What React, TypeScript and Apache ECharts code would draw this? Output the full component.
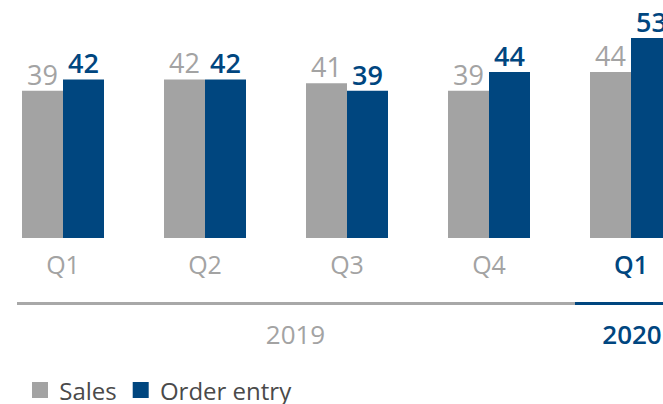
import React, { useEffect, useRef } from "react";
import * as echarts from "echarts";

const quarters = ["Q1", "Q2", "Q3", "Q4", "Q1"];
const years = ["2019", "2019", "2019", "2019", "2020"];
const sales = [39, 42, 41, 39, 44];
const orderEntry = [42, 42, 39, 44, 53];

const GREY = "#a3a3a3";
const BLUE = "#00467f";
const FONT = "'Open Sans', sans-serif";
const SHIFT = 8; // chart canvas starts 8px left of the visible page

export default function App() {
  const ref = useRef<HTMLDivElement>(null);
  useEffect(() => {
    if (!ref.current) return;
    const chart = echarts.init(ref.current, null, { renderer: "svg" });
    const categories = quarters.map((q, i) => q + " " + years[i]);
    chart.setOption({
      animation: false,
      textStyle: { fontFamily: FONT },
      grid: { left: 0, width: 710, top: 11.5, height: 226.5 },
      legend: {
        left: 27 + SHIFT,
        top: 373,
        icon: "rect",
        itemWidth: 16,
        itemHeight: 16,
        itemGap: 16,
        formatter: (n: string) => " " + n,
        textStyle: { fontFamily: FONT, fontSize: 24, lineHeight: 18, color: "#4a4a4a" },
        data: ["Sales", "Order entry"],
      },
      xAxis: {
        type: "category",
        data: categories,
        axisLine: { show: false },
        axisTick: { show: false },
        axisLabel: {
          margin: 13,
          interval: 0,
          formatter: (v: string, i: number) => {
            const q = v.split(" ")[0];
            return years[i] === "2020" ? "{b|" + q + "}" : "{g|" + q + "}";
          },
          rich: {
            g: { fontFamily: FONT, fontSize: 25, color: GREY },
            b: { fontFamily: FONT, fontSize: 25, color: BLUE, fontWeight: 600 },
          },
        },
      },
      yAxis: { type: "value", min: 0, max: 60, show: false, splitLine: { show: false } },
      series: [
        {
          name: "Sales",
          type: "bar",
          data: sales,
          barWidth: 41,
          barGap: "0%",
          itemStyle: { color: GREY },
          label: {
            show: true,
            position: "top",
            distance: 3,
            fontFamily: FONT,
            fontSize: 27,
            color: GREY,
          },
        },
        {
          name: "Order entry",
          type: "bar",
          data: orderEntry,
          barWidth: 41,
          barGap: "0%",
          itemStyle: { color: BLUE },
          label: {
            show: true,
            position: "top",
            distance: 3,
            fontFamily: FONT,
            fontSize: 27,
            fontWeight: 600,
            color: BLUE,
          },
        },
      ],
      graphic: [
        { type: "rect", shape: { x: 17 + SHIFT, y: 302, width: 558, height: 3 }, style: { fill: "#a8a8a8" } },
        { type: "rect", shape: { x: 575 + SHIFT, y: 302, width: 120, height: 3 }, style: { fill: BLUE } },
        {
          type: "text",
          x: 295.5 + SHIFT,
          y: 334,
          style: { text: years[0], fontFamily: FONT, fontSize: 26, fill: GREY, align: "center", verticalAlign: "middle" },
        },
        {
          type: "text",
          x: 632 + SHIFT,
          y: 334,
          style: { text: years[4], fontFamily: FONT, fontSize: 26, fontWeight: 600, fill: BLUE, align: "center", verticalAlign: "middle" },
        },
      ],
    });
    return () => chart.dispose();
  }, []);
  return (
    <div style={{ position: "absolute", left: 0, top: 0, width: 663, height: 404, overflow: "hidden", background: "#fff" }}>
      <div ref={ref} style={{ position: "absolute", left: -SHIFT, top: 0, width: 718, height: 404 }} />
    </div>
  );
}
